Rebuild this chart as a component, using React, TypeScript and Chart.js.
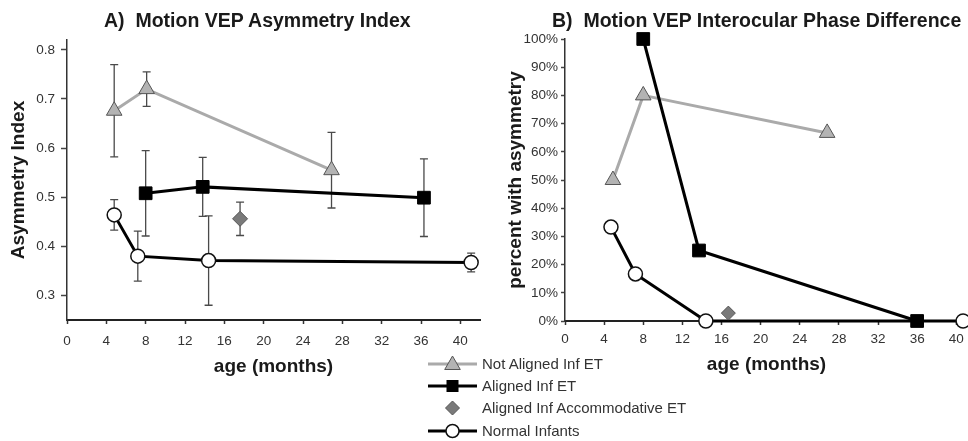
import React, { useEffect, useRef } from 'react';
import { Chart, registerables } from 'chart.js';

Chart.register(...registerables);

// ---------- Panel A: Motion VEP Asymmetry Index ----------
const titleA = 'A)  Motion VEP Asymmetry Index';
const yTitleA = 'Asymmetry Index';
const notAlignedAgesA = [4.8, 8.1, 26.9];
const notAlignedIndexA = [0.676, 0.72, 0.555];
const notAlignedErrA = [0.094, 0.035, 0.077];

const alignedAgesA = [8.0, 13.8, 36.3];
const alignedIndexA = [0.508, 0.521, 0.499];
const alignedErrA = [0.087, 0.06, 0.079];

const accomAgesA = [17.6];
const accomIndexA = [0.456];
const accomErrA = [0.034];

const normalAgesA = [4.8, 7.2, 14.4, 41.1];
const normalIndexA = [0.464, 0.38, 0.371, 0.367];
const normalErrA = [0.031, 0.051, 0.091, 0.019];

// ---------- Panel B: Motion VEP Interocular Phase Difference ----------
const titleB = 'B)  Motion VEP Interocular Phase Difference';
const yTitleB = 'percent with asymmetry';
const notAlignedAgesB = [4.9, 8.0, 26.8];
const notAlignedPctB = [50, 80, 66.7];

const alignedAgesB = [8.0, 13.7, 36.0];
const alignedPctB = [100, 25, 0];

const accomAgesB = [16.7];
const accomPctB = [2.8];

const normalAgesB = [4.7, 7.2, 14.4, 40.7];
const normalPctB = [33.3, 16.7, 0, 0];

const xTitle = 'age (months)';
const legendLabels = [
  'Not Aligned Inf ET',
  'Aligned Inf ET',
  'Aligned Inf Accommodative ET',
  'Normal Infants',
];

const FONT = '"Liberation Sans", Arial, Helvetica, sans-serif';

const pts = (xs: number[], ys: number[]) => xs.map((x, i) => ({ x, y: ys[i] }));

const errorBarPlugin = {
  id: 'errorBars',
  beforeDatasetsDraw(chart: any) {
    const { ctx } = chart;
    const xs = chart.scales.x;
    const ys = chart.scales.y;
    ctx.save();
    ctx.strokeStyle = '#4a4a4a';
    ctx.lineWidth = 1.3;
    chart.data.datasets.forEach((ds: any) => {
      if (!ds.errors) return;
      ds.data.forEach((p: any, i: number) => {
        const e = ds.errors[i];
        const px = xs.getPixelForValue(p.x);
        const yt = ys.getPixelForValue(p.y + e);
        const yb = ys.getPixelForValue(p.y - e);
        ctx.beginPath();
        ctx.moveTo(px, yt);
        ctx.lineTo(px, yb);
        ctx.moveTo(px - 4, yt);
        ctx.lineTo(px + 4, yt);
        ctx.moveTo(px - 4, yb);
        ctx.lineTo(px + 4, yb);
        ctx.stroke();
      });
    });
    ctx.restore();
  },
};

const triStyle = {
  showLine: true,
  pointStyle: 'triangle',
  pointRadius: 9,
  pointBackgroundColor: '#b3b3b3',
  pointBorderColor: '#555555',
  pointBorderWidth: 1,
  borderColor: '#aaaaaa',
  borderWidth: 3,
  tension: 0,
};
const sqStyle = {
  showLine: true,
  pointStyle: 'rect',
  pointRadius: 9,
  pointBackgroundColor: '#000000',
  pointBorderColor: '#000000',
  pointBorderWidth: 1,
  borderColor: '#000000',
  borderWidth: 3,
  tension: 0,
};
const diaStyle = {
  showLine: false,
  pointStyle: 'rectRot',
  pointRadius: 7.5,
  pointBackgroundColor: '#7a7a7a',
  pointBorderColor: '#555555',
  pointBorderWidth: 1,
  borderColor: '#7a7a7a',
};
const circStyle = {
  showLine: true,
  pointStyle: 'circle',
  pointRadius: 7,
  pointBackgroundColor: '#ffffff',
  pointBorderColor: '#111111',
  pointBorderWidth: 1.5,
  borderColor: '#000000',
  borderWidth: 3,
  tension: 0,
};

function xAxis(max: number, height: number, tickPad: number, titlePadBottom: number) {
  return {
    type: 'linear',
    min: 0,
    max,
    afterFit: (s: any) => {
      s.height = height;
      s.paddingLeft = 0;
      s.paddingRight = 0;
    },
    ticks: {
      stepSize: 4,
      includeBounds: false,
      autoSkip: false,
      maxRotation: 0,
      color: '#333333',
      padding: tickPad,
      font: { family: FONT, size: 13.5 },
    },
    grid: {
      display: true,
      drawOnChartArea: false,
      drawTicks: true,
      tickLength: 4,
      color: '#333333',
      tickWidth: 1.5,
    },
    border: { display: true, color: '#222222', width: 2 },
    title: {
      display: true,
      text: xTitle,
      color: '#1a1a1a',
      font: { family: FONT, size: 19, weight: 'bold' },
      padding: { top: 0, bottom: titlePadBottom },
    },
  };
}

export default function App() {
  const refA = useRef<HTMLCanvasElement>(null);
  const refB = useRef<HTMLCanvasElement>(null);

  useEffect(() => {
    const chartA = new Chart(refA.current as HTMLCanvasElement, {
      type: 'scatter',
      data: {
        datasets: [
          { label: legendLabels[1], data: pts(alignedAgesA, alignedIndexA), errors: alignedErrA, ...sqStyle } as any,
          { label: legendLabels[0], data: pts(notAlignedAgesA, notAlignedIndexA), errors: notAlignedErrA, ...triStyle } as any,
          { label: legendLabels[2], data: pts(accomAgesA, accomIndexA), errors: accomErrA, ...diaStyle } as any,
          { label: legendLabels[3], data: pts(normalAgesA, normalIndexA), errors: normalErrA, ...circStyle } as any,
        ],
      },
      options: {
        animation: false,
        responsive: false,
        maintainAspectRatio: false,
        clip: false as any,
        layout: { autoPadding: false, padding: { top: 40, right: 5, left: 0, bottom: 0 } },
        plugins: {
          legend: { display: false },
          tooltip: { enabled: false },
          title: { display: false },
        },
        scales: {
          x: xAxis(42, 121, 9, 62.6) as any,
          y: {
            type: 'linear',
            min: 0.25,
            max: 0.82,
            afterFit: (s: any) => {
              s.width = 67;
            },
            ticks: {
              stepSize: 0.1,
              includeBounds: false,
              color: '#333333',
              padding: 6,
              font: { family: FONT, size: 13.5 },
              callback: (v: any) => Number(v).toFixed(1),
            },
            grid: {
              display: true,
              drawOnChartArea: false,
              drawTicks: true,
              tickLength: 6,
              color: '#444444',
              tickWidth: 1.5,
            },
            border: { display: true, color: '#333333', width: 1.5 },
            title: {
              display: true,
              text: yTitleA,
              color: '#1a1a1a',
              font: { family: FONT, size: 19, weight: 'bold' },
              padding: { top: 7.6, bottom: 0 },
            },
          } as any,
        },
      },
      plugins: [errorBarPlugin],
    });

    const chartB = new Chart(refB.current as HTMLCanvasElement, {
      type: 'scatter',
      data: {
        datasets: [
          { label: legendLabels[1], data: pts(alignedAgesB, alignedPctB), ...sqStyle } as any,
          { label: legendLabels[0], data: pts(notAlignedAgesB, notAlignedPctB), ...triStyle } as any,
          { label: legendLabels[2], data: pts(accomAgesB, accomPctB), ...diaStyle, pointRadius: 7 } as any,
          { label: legendLabels[3], data: pts(normalAgesB, normalPctB), ...circStyle } as any,
        ],
      },
      options: {
        animation: false,
        responsive: false,
        maintainAspectRatio: false,
        clip: false as any,
        layout: { autoPadding: false, padding: { top: 39, right: 0, left: 0, bottom: 0 } },
        plugins: {
          legend: { display: false },
          tooltip: { enabled: false },
          title: { display: false },
        },
        scales: {
          x: xAxis(41.2, 120, 6, 64.6) as any,
          y: {
            type: 'linear',
            min: 0,
            max: 100,
            afterFit: (s: any) => {
              s.width = 80;
            },
            ticks: {
              stepSize: 10,
              color: '#333333',
              padding: 3,
              font: { family: FONT, size: 13.5 },
              callback: (v: any) => `${v}%`,
            },
            grid: {
              display: true,
              drawOnChartArea: false,
              drawTicks: true,
              tickLength: 4,
              color: '#444444',
              tickWidth: 1.5,
            },
            border: { display: true, color: '#333333', width: 1.5 },
            title: {
              display: true,
              text: yTitleB,
              color: '#1a1a1a',
              font: { family: FONT, size: 19, weight: 'bold' },
              padding: { top: 19.6, bottom: 0 },
            },
          } as any,
        },
      },
    });

    return () => {
      chartA.destroy();
      chartB.destroy();
    };
  }, []);

  const titleStyle: React.CSSProperties = {
    position: 'absolute',
    top: 9,
    whiteSpace: 'pre',
    font: `bold 19.5px ${FONT}`,
    lineHeight: '22px',
    color: '#1a1a1a',
  };

  const rowTops = [353, 375, 397, 420];

  const marker = (i: number) => {
    if (i === 0)
      return (
        <>
          <line x1={0} y1={11} x2={49} y2={11} stroke="#aaaaaa" strokeWidth={3} />
          <polygon points="24.5,3 32.3,16.5 16.7,16.5" fill="#b3b3b3" stroke="#555" strokeWidth={1} />
        </>
      );
    if (i === 1)
      return (
        <>
          <line x1={0} y1={11} x2={49} y2={11} stroke="#000" strokeWidth={3} />
          <rect x={18.5} y={5} width={12} height={12} fill="#000" />
        </>
      );
    if (i === 2)
      return <polygon points="24.5,4 31.5,11 24.5,18 17.5,11" fill="#7a7a7a" stroke="#555" strokeWidth={1} />;
    return (
      <>
        <line x1={0} y1={11} x2={49} y2={11} stroke="#000" strokeWidth={3} />
        <circle cx={24.5} cy={11} r={6.5} fill="#fff" stroke="#111" strokeWidth={1.5} />
      </>
    );
  };

  return (
    <div style={{ position: 'absolute', left: 0, top: 0, width: 968, height: 441, overflow: 'hidden', background: '#fff' }}>
      <canvas ref={refA} width={485} height={441} style={{ position: 'absolute', left: 0, top: 0 }} />
      <canvas ref={refB} width={483} height={441} style={{ position: 'absolute', left: 485, top: 0 }} />
      <div style={{ ...titleStyle, left: 104 }}>{titleA}</div>
      <div style={{ ...titleStyle, left: 552 }}>{titleB}</div>
      {legendLabels.map((lab, i) => (
        <div key={lab} style={{ position: 'absolute', left: 428, top: rowTops[i], height: 22, display: 'flex', alignItems: 'center' }}>
          <svg width={50} height={22} style={{ display: 'block' }}>
            {marker(i)}
          </svg>
          <span style={{ marginLeft: 4, font: `15px ${FONT}`, color: '#333', lineHeight: '22px', whiteSpace: 'pre' }}>{lab}</span>
        </div>
      ))}
    </div>
  );
}
